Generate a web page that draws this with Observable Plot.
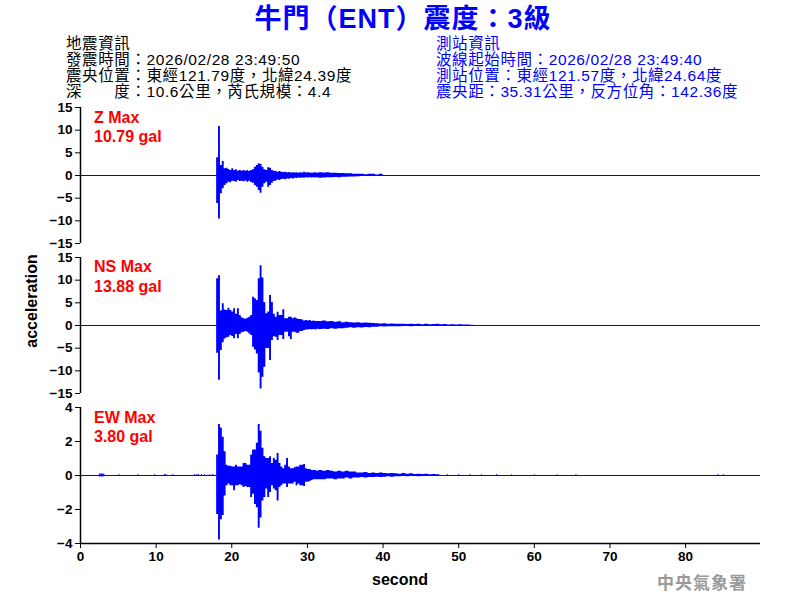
<!DOCTYPE html>
<html>
<head>
<meta charset="utf-8">
<script src="https://cdn.jsdelivr.net/npm/d3@7"></script>
<script src="https://cdn.jsdelivr.net/npm/@observablehq/plot@0.6"></script>
<style>
  html, body { margin: 0; padding: 0; background: #fff; }
  #root { position: relative; width: 800px; height: 600px; overflow: hidden;
          font-family: "Liberation Sans", Arial, "Noto Sans CJK TC", sans-serif; }
  .t { position: absolute; white-space: nowrap; line-height: 1; }
  .hdr { font-size: 15.5px; line-height: 15px; letter-spacing: 0.6px; font-family: "Liberation Sans", Arial, "Noto Sans CJK TC", sans-serif; }
  .red { color: #ff0000; font-weight: bold; font-size: 16px; }
  .panel { position: absolute; left: 0; }
</style>
</head>
<body>
<div id="root"></div>
<script>
// ---------------- data ----------------
const titleText = "牛門（ENT）震度：3級";
const quakeInfo = ["地震資訊", "發震時間：2026/02/28 23:49:50", "震央位置：東經121.79度，北緯24.39度", "深　　度：10.6公里，芮氏規模：4.4"];
const stationInfo = ["測站資訊", "波線起始時間：2026/02/28 23:49:40", "測站位置：東經121.57度，北緯24.64度", "震央距：35.31公里，反方位角：142.36度"];
const components = ["Z", "NS", "EW"];
const maxLabels = ["10.79 gal", "13.88 gal", "3.80 gal"];
const xTicks = [0, 10, 20, 30, 40, 50, 60, 70, 80];
const bigTicks = [-15, -10, -5, 0, 5, 10, 15];
const ewTicks = [-4, -2, 0, 2, 4];
const timeEnd = 89.9;

// envelope (max / min per bin, gal); main bins 0.25 s from 18.0 s, tail bins 0.5 s from 31.5 s
const binStart = 18.0, binStep = 0.25, tailStart = 31.5, tailStep = 0.5;

const zHi = [3.9,10.8,2.2,3.1,1.5,1.6,1.3,1.1,1.5,1.1,1.25,0.95,1.1,0.95,1.1,0.95,1.1,0.9,1.1,1.25,1.8,2.2,2.6,2.4,1.8,1.25,1.1,1.7,1.6,1.1,0.95,0.9,0.7,0.9,0.7,0.65,0.7,0.6,0.65,0.55,0.6,0.55,0.6,0.5,0.6,0.55,0.7,0.55,0.6,0.55,0.5,0.55,0.6,0.5];
const zLo = [-6.2,-9.6,-4.0,-2.9,-2.2,-1.8,-1.5,-1.6,-1.25,-1.3,-1.5,-1.1,-1.3,-1.25,-1.4,-1.2,-1.5,-1.25,-1.55,-1.7,-2.2,-2.6,-3.3,-3.9,-2.6,-1.8,-1.5,-2.6,-2.2,-1.7,-1.3,-1.2,-1.0,-1.1,-0.9,-0.8,-0.95,-0.75,-0.8,-0.65,-0.75,-0.6,-0.65,-0.55,-0.6,-0.55,-0.6,-0.5,-0.55,-0.5,-0.55,-0.5,-0.55,-0.5];
const zTailHi = [0.6,0.55,0.6,0.5,0.5,0.45,0.45,0.37,0.4,0.3,0.3,0.25,0.15,0.3,0.25,0.1,0.3];
const zTailLo = [-0.6,-0.55,-0.5,-0.5,-0.45,-0.5,-0.4,-0.37,-0.35,-0.35,-0.25,-0.2,-0.15,-0.1,-0.15,-0.05,-0.2];

const nsHi = [10.3,11.0,3.2,4.8,3.4,3.3,3.8,3.3,3.0,3.7,2.5,3.7,2.2,1.7,1.5,1.4,1.6,1.8,2.2,6.25,5.9,5.5,10.3,13.2,10.5,5.0,2.6,3.0,6.6,5.1,2.5,1.8,2.9,2.2,2.2,3.5,1.5,1.5,1.8,1.8,1.5,1.7,1.5,1.3,1.3,1.2,1.0,1.1,1.0,1.1,0.9,1.0,0.9,0.9];
const nsLo = [-6.1,-12.1,-5.5,-3.8,-3.0,-2.7,-2.6,-2.2,-2.4,-2.9,-2.0,-2.9,-2.0,-1.6,-1.5,-1.3,-1.5,-1.9,-2.2,-4.8,-5.4,-6.3,-10.5,-14.0,-11.4,-9.2,-5.1,-5.1,-7.7,-3.3,-2.5,-2.6,-3.3,-2.2,-2.2,-3.1,-1.5,-1.5,-2.5,-3.1,-1.5,-1.5,-1.7,-1.7,-1.3,-1.3,-1.1,-1.0,-1.0,-0.9,-1.0,-0.9,-1.0,-0.8];
const nsTailHi = [0.9,1.0,0.8,0.9,0.7,0.8,0.6,0.7,0.6,0.55,0.6,0.5,0.55,0.5,0.45,0.4,0.35,0.4,0.3,0.35,0.3,0.25,0.3,0.2,0.3,0.2,0.25,0.15,0.3,0.15,0.2,0.25,0.15,0.2,0.1,0.15,0.1,0.15,0.1,0.1,0.05];
const nsTailLo = [-0.9,-0.8,-0.9,-0.7,-0.8,-0.7,-0.7,-0.6,-0.5,-0.6,-0.5,-0.55,-0.45,-0.5,-0.4,-0.4,-0.3,-0.35,-0.3,-0.3,-0.25,-0.3,-0.2,-0.2,-0.25,-0.15,-0.2,-0.2,-0.2,-0.15,-0.15,-0.2,-0.1,-0.15,-0.1,-0.1,-0.1,-0.1,-0.05,-0.1,-0.05];

const ewHi = [1.2,3.0,2.8,2.25,1.4,0.6,0.55,0.55,0.5,0.5,0.6,0.5,0.5,0.5,0.7,0.7,0.6,0.6,1.2,1.5,1.5,1.9,3.0,2.6,1.6,1.1,1.0,1.0,1.1,0.7,1.0,0.9,1.3,0.7,0.5,0.4,0.6,1.0,0.5,0.4,0.4,0.45,0.5,0.5,0.6,0.6,0.65,0.4,0.35,0.35,0.3,0.3,0.3,0.25];
const ewLo = [-2.3,-3.8,-2.6,-2.35,-1.2,-0.6,-0.5,-0.6,-0.6,-0.9,-0.6,-0.6,-0.55,-0.6,-0.7,-0.65,-0.7,-0.7,-1.3,-1.1,-1.7,-1.9,-3.1,-2.5,-1.5,-1.3,-0.8,-1.3,-1.0,-0.6,-0.8,-0.9,-1.5,-0.7,-0.6,-0.5,-0.5,-0.7,-0.5,-0.5,-0.5,-0.4,-0.6,-0.5,-0.6,-0.6,-0.65,-0.4,-0.4,-0.35,-0.3,-0.25,-0.25,-0.25];
const ewTailHi = [0.3,0.25,0.3,0.25,0.2,0.25,0.2,0.25,0.2,0.2,0.15,0.15,0.18,0.12,0.15,0.12,0.15,0.12,0.1,0.12,0.1,0.08,0.12,0.08,0.1,0.06,0.08,0.06,0.08,0.05,0.06,0.05];
const ewTailLo = [-0.25,-0.25,-0.2,-0.2,-0.25,-0.2,-0.2,-0.15,-0.2,-0.15,-0.15,-0.12,-0.15,-0.12,-0.12,-0.1,-0.12,-0.1,-0.08,-0.1,-0.08,-0.08,-0.05,-0.08,-0.06,-0.05,-0.08,-0.04,-0.06,-0.05,-0.04,-0.05];
// sporadic small EW blips (time s, half-height gal)
const ewBlipT = [2.5,2.6,2.7,2.8,2.9,3.0,3.1,5.1,7.6,9.8,11.1,11.3,12.2,15.1,15.4,15.6,16.0,16.4,17.1,17.5,48.5,50.0,51.5,53.0,55.0,57.0,60.0,63.0,65.5,84.3,85.0];
const ewBlipV = [0.08,0.08,0.08,0.08,0.08,0.08,0.06,0.05,0.05,0.05,0.06,0.06,0.05,0.06,0.05,0.06,0.06,0.05,0.05,0.06,0.05,0.05,0.05,0.04,0.05,0.04,0.04,0.04,0.05,0.05,0.04];

// ---------------- build ----------------
function envelope(hi, lo, tailHi, tailLo) {
  const rows = [];
  hi.forEach((h, i) => rows.push({t: binStart + i * binStep, hi: h, lo: lo[i]}));
  tailHi.forEach((h, i) => rows.push({t: tailStart + i * tailStep, hi: h, lo: tailLo[i]}));
  const n = tailHi.length;
  rows.push({t: tailStart + n * tailStep, hi: tailHi[n - 1], lo: tailLo[n - 1]});
  return rows;
}
const series = [
  envelope(zHi, zLo, zTailHi, zTailLo),
  envelope(nsHi, nsLo, nsTailHi, nsTailLo),
  envelope(ewHi, ewLo, ewTailHi, ewTailLo)
];
const blips = ewBlipT.map((t, i) => ({t, v: ewBlipV[i]}));

const root = document.getElementById("root");
function addText(txt, cls, css) {
  const d = document.createElement("div");
  d.className = "t " + cls;
  d.textContent = txt;
  Object.assign(d.style, css);
  root.appendChild(d);
  return d;
}

// title
addText(titleText, "", {left: "403px", top: "6px", transform: "translateX(-50%)", fontSize: "27px", letterSpacing: "1px", fontWeight: "bold", color: "#0000ff"});
// header blocks
const lineTops = [36, 52, 68, 84];
quakeInfo.forEach((s, i) => addText(s, "hdr", {left: "66px", top: lineTops[i] + "px", color: "#000"}));
stationInfo.forEach((s, i) => addText(s, "hdr", {left: "436px", top: lineTops[i] + "px", color: "#0000ff"}));

// panels
const panelTops = [100, 250, 400];
const panelHeights = [150, 150, 200];
const panelBottoms = [7, 7, 57];
const panelDomains = [[-15, 15], [-15, 15], [-4, 4]];
const panelTicks = [bigTicks, bigTicks, ewTicks];

components.forEach((c, k) => {
  const isLast = k === 2;
  const marks = [
    Plot.ruleY([0], {stroke: "#0000ff", strokeWidth: 1}),
    Plot.areaY(series[k], {x: "t", y1: "lo", y2: "hi", curve: "step-after", fill: "#0000ff"}),
    Plot.ruleX([0], {stroke: "#000", strokeWidth: 1.5})
  ];
  if (isLast) {
    marks.push(Plot.ruleX(blips, {x: "t", y1: d => -d.v, y2: d => d.v, stroke: "#0000ff", strokeWidth: 1}));
    marks.push(Plot.ruleY([panelDomains[k][0]], {stroke: "#000", strokeWidth: 1.5}));
  }
  const svg = Plot.plot({
    width: 800,
    height: panelHeights[k],
    marginLeft: 80,
    marginRight: 40,
    marginTop: 7,
    marginBottom: panelBottoms[k],
    style: {fontFamily: "'Liberation Sans', Arial, sans-serif", fontSize: "13.5px", fontWeight: "bold", color: "#000", background: "transparent", overflow: "visible"},
    x: {domain: [0, timeEnd], axis: isLast ? "bottom" : null, ticks: xTicks, tickSize: 5, tickPadding: 3, label: null},
    y: {domain: panelDomains[k], ticks: panelTicks[k], tickSize: 5, tickPadding: 3, label: null},
    marks
  });
  const wrap = document.createElement("div");
  wrap.className = "panel";
  wrap.style.top = panelTops[k] + "px";
  wrap.appendChild(svg);
  root.appendChild(wrap);
});

// red max labels
const labelTops = [[110, 129], [259, 279], [410, 429]];
components.forEach((c, k) => {
  addText(c + " Max", "red", {left: "94px", top: labelTops[k][0] + "px"});
  addText(maxLabels[k], "red", {left: "94px", top: labelTops[k][1] + "px"});
});

// axis titles
addText("acceleration", "", {left: "32px", top: "301px", transform: "translate(-50%, -50%) rotate(-90deg)", fontSize: "16px", fontWeight: "bold", color: "#000"});
addText("second", "", {left: "400px", top: "580px", transform: "translate(-50%, -50%)", fontSize: "16px", fontWeight: "bold", color: "#000"});
// watermark
addText("中央氣象署", "", {left: "657px", top: "573px", fontSize: "17px", fontWeight: "bold", color: "#9a9a9a", letterSpacing: "1px", fontFamily: "'Noto Sans CJK TC', sans-serif"});
</script>
</body>
</html>
